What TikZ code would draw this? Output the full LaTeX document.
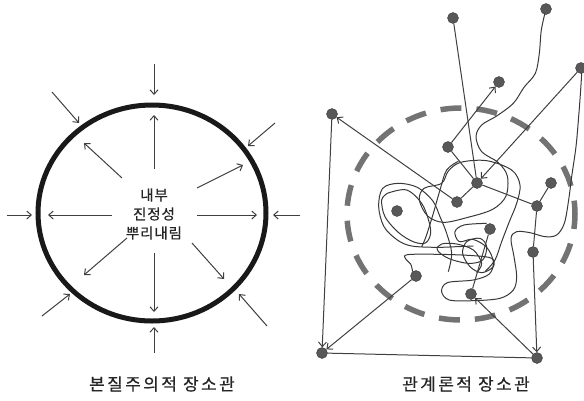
\documentclass[tikz,border=0pt]{standalone}
\usepackage{fontspec}
\newfontfamily\krin[LetterSpace=6,FakeBold=0.6]{Noto Sans CJK KR}
\newfontfamily\krlab[LetterSpace=14,FakeBold=0.6]{Noto Sans CJK KR}
\usetikzlibrary{arrows.meta}
\definecolor{arrgray}{HTML}{404040}
\definecolor{dotgray}{HTML}{585858}
\definecolor{dotdark}{HTML}{3A3A3A}
\definecolor{dashgray}{HTML}{737373}
\definecolor{squig}{HTML}{383838}
\begin{document}
\begin{tikzpicture}[x=1pt,y=-1pt,
  arr/.style={draw=arrgray, line width=1pt, -{Straight Barb[length=4.5pt,width=8pt]}},
  ln/.style={draw=arrgray, line width=1pt},
  dot/.style={circle, fill=dotgray, draw=dotdark, line width=0.4pt, minimum size=11pt, inner sep=0pt},
  sq/.style={draw=squig, line width=1pt, smooth, tension=0.55},
  lab/.style={font=\krlab\fontsize{17}{20}\selectfont, text=black!85}
]
\useasboundingbox (0,0) rectangle (584,400);

% ---------- left diagram ----------
\draw[line width=5pt, color=black!90] (152,213) ellipse [x radius=114, y radius=108];
\node[align=center, font=\krin\fontsize{14.5}{19}\selectfont, text=black!85] (core) at (154,214) {내부\\진정성\\뿌리내림};

% outer arrows (pointing in)
\foreach \n/\sx/\sy/\ex/\ey in {
  a/154/64/154/95, b/52/92/79/123, c/275/123/248/146, d/7/215/32/215,
  e/300/215/273/215, f/42/316/70/294, g/267/326/239/294, h/154/353/154/327}{
  \coordinate (out\n s) at (\sx,\sy);
  \coordinate (out\n e) at (\ex,\ey);
  \draw[arr] (out\n s) -- (out\n e);
}
% inner arrows (pointing out)
\foreach \n/\sx/\sy/\ex/\ey in {
  a/154/169/154/115, b/122/178/84/143, c/197/188/243/165, d/112/215/48/215,
  e/197/215/257/215, f/127/238/84/275, g/192/243/224/279, h/154/253/154/312}{
  \coordinate (in\n s) at (\sx,\sy);
  \coordinate (in\n e) at (\ex,\ey);
  \draw[arr] (in\n s) -- (in\n e);
}

\node[lab] (labL) at (162,384) {본질주의적 장소관};

% ---------- right diagram ----------
\draw[dashgray, line width=5.5pt, dash pattern=on 21pt off 15pt, dash phase=6pt] (461,214) ellipse [x radius=114, y radius=106];

% tangle (coordinates in 3x zoom frame)
\begin{scope}[x=0.33333pt, y=-0.33333pt, shift={(900,270)}]
\draw[sq] plot coordinates {(738,-243) (724,-180) (718,-110) (706,-50) (672,-8) (640,40) (590,78) (545,105) (528,140) (545,185) (595,218) (622,258) (618,318) (578,358) (500,383) (430,397) (383,378) (358,330) (372,295) (425,280) (445,243) (482,217) (560,212) (635,240) (660,285) (650,340) (628,395) (605,455) (585,510) (555,545)};
\draw[sq] plot coordinates {(846,-66) (842,0) (836,80) (828,170) (815,260) (806,330) (793,400) (770,435) (735,440) (690,428) (650,425) (633,445) (642,500) (650,560) (640,600) (600,625) (520,632) (448,630) (425,605) (442,578) (520,570) (568,552) (580,515) (560,472) (518,448) (478,455) (465,425) (492,405) (560,400)};
\draw[sq] plot coordinates {(338,545) (332,522) (318,508) (322,494) (420,493) (520,497) (575,505) (580,530) (545,548) (510,530) (488,490) (500,455) (540,445) (560,470) (548,510) (505,520) (445,505) (412,480) (425,462) (470,462) (520,480) (545,520) (530,548)};
\draw[sq] plot coordinates {(262,310) (320,300) (368,345) (392,420) (378,458) (342,456) (296,428) (255,380) (245,330) (262,310)};
\draw[sq] plot coordinates {(445,545) (455,490) (440,430) (420,380) (398,332) (352,292) (295,280) (248,295) (236,350) (252,410) (292,450) (335,468) (410,472) (470,470) (520,468)};
\draw[sq] plot coordinates {(475,214) (440,240) (420,300) (400,370) (378,440) (365,470)};
\end{scope}

% nodes
\node[dot] (A) at (453,18) {};
\node[dot] (B) at (546,9) {};
\node[dot] (C) at (581,68) {};
\node[dot] (D) at (499,82) {};
\node[dot] (E) at (332,114) {};
\node[dot] (F) at (448,147) {};
\node[dot] (G) at (477,183) {};
\node[dot] (H) at (551,183) {};
\node[dot] (I) at (457,202) {};
\node[dot] (J) at (397,211) {};
\node[dot] (K) at (537,206) {};
\node[dot] (L) at (490,229) {};
\node[dot] (M) at (533,252) {};
\node[dot] (N) at (416,276) {};
\node[dot] (O) at (471,294) {};
\node[dot] (P) at (322,353) {};
\node[dot] (Q) at (537,358) {};

% connectors
\draw[ln] (A) -- (G);
\draw[ln] (F) -- (G);
\draw[ln] (G) -- (I);
\draw[ln] (G) -- (K);
\draw[ln] (H) -- (K);
\draw[ln] (K) -- (M);
\draw[ln] (L) -- (O);
\draw[ln] (P) -- (Q);
\draw[arr] (F) -- (D);
\draw[arr] (C) -- (G);
\draw[arr] (I) -- (E);
\draw[arr] (M) -- (Q);
\draw[arr] (E) -- (P);
\draw[arr] (N) -- (P);
\draw[arr] (Q) -- (O);

\node[lab] (labR) at (466,384) {관계론적 장소관};
\end{tikzpicture}
\end{document}
